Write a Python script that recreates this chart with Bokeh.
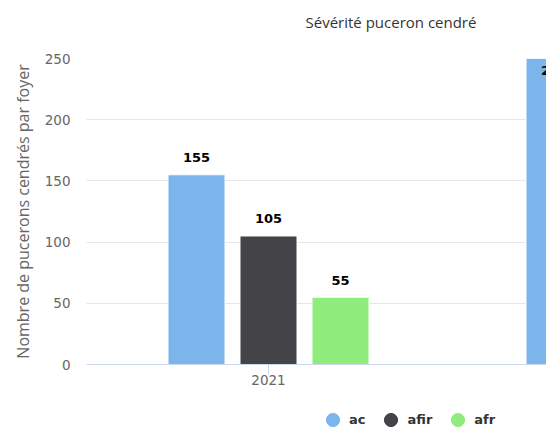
from bokeh.plotting import figure
from bokeh.layouts import column
from bokeh.models import ColumnDataSource, Range1d, FixedTicker, Legend, LegendItem, Title
from bokeh.transform import dodge
from bokeh.core.properties import value
from bokeh.embed import file_html
from bokeh.resources import INLINE

# ---- data ----
years = ["2021", "2022"]
series_names = ["ac", "afir", "afr"]
ac = [155, 250]
afir = [105]
afr = [55]
series_values = [ac, afir, afr]
colors = ["#7cb5ec", "#434348", "#90ed7d"]
y_ticks = [0, 50, 100, 150, 200, 250]
title_text = "Sévérité puceron cendré"
y_title = "Nombre de pucerons cendrés par foyer"

YMAX = 250
GROUP_W = 358.0  # px per category
BAR_W = 57.0 / GROUP_W
STEP = 72.0 / GROUP_W

p = figure(width=546, height=394, output_backend="svg", toolbar_location=None,
           title=None,
           x_range=Range1d(-182.0 / GROUP_W, -182.0 / GROUP_W + 460.0 / GROUP_W),
           y_range=Range1d(0, YMAX))
p.min_border_left = 86
p.min_border_right = 0
p.min_border_top = 58
p.min_border_bottom = 30
p.outline_line_color = None
p.background_fill_color = "white"
p.border_fill_color = "white"

# spacer (inner) then real title (outer)
spacer = Title(text=" ", text_font_size="2px", standoff=11, text_color="white")
p.add_layout(spacer, "above")
title = Title(text=title_text, align="left", offset=219, vertical_align="top",
              text_font="Open Sans", text_font_style="normal", text_font_size="15px",
              text_color="#333333", standoff=20)
p.add_layout(title, "above")

# legend figure (below the chart)
lf = figure(width=546, height=51, output_backend="svg", toolbar_location=None,
            title=None, x_axis_type=None, y_axis_type=None,
            x_range=Range1d(0, 1), y_range=Range1d(0, 1))
lf.min_border = 0
lf.outline_line_color = None
lf.grid.grid_line_color = None

legend_items = []
n = len(series_names)
for i, (name, vals, col) in enumerate(zip(series_names, series_values, colors)):
    xs = list(range(len(vals)))
    offs = [(-17 if v < YMAX else 12) for v in vals]
    src = ColumnDataSource(dict(x=xs, top=vals, label=[str(v) for v in vals], yoff=offs))
    off = (i - (n - 1) / 2) * STEP
    p.vbar(x=dodge("x", off), top="top", bottom=0, width=BAR_W, source=src,
           fill_color=col, line_color="white", line_width=1)
    p.text(x=dodge("x", off), y="top", text="label", source=src, y_offset="yoff",
           text_align="center", text_baseline="middle",
           text_font=value("DejaVu Sans"), text_font_style="bold",
           text_font_size="13px", text_color="#000000")
    sc = lf.scatter(x=[float("nan")], y=[float("nan")], marker="circle",
                    fill_color=col, line_color=col, size=13)
    legend_items.append(LegendItem(label=name, renderers=[sc]))

legend = Legend(items=legend_items, orientation="horizontal", location=(230, 9))
legend.glyph_width = 33
legend.glyph_height = 33
legend.label_standoff = -5
legend.label_width = 10
legend.spacing = 9
legend.padding = 0
legend.margin = 0
legend.border_line_color = None
legend.background_fill_alpha = 0
legend.label_text_font = "DejaVu Sans"
legend.label_text_font_style = "bold"
legend.label_text_font_size = "13px"
legend.label_text_color = "#333333"
lf.add_layout(legend, "center")

# x axis
p.xaxis.ticker = FixedTicker(ticks=list(range(len(years))))
p.xaxis.major_label_overrides = {i: y for i, y in enumerate(years)}
p.xaxis.axis_line_color = "#ccd6eb"
p.xaxis.major_tick_line_color = "#ccd6eb"
p.xaxis.major_tick_out = 10
p.xaxis.major_tick_in = 0
p.xaxis.minor_tick_line_color = None
p.xaxis.major_label_text_font = "DejaVu Sans"
p.xaxis.major_label_text_font_size = "13.5px"
p.xaxis.major_label_text_color = "#666666"
p.xaxis.major_label_standoff = 0

# y axis
p.yaxis.ticker = FixedTicker(ticks=y_ticks)
p.yaxis.axis_line_color = None
p.yaxis.major_tick_line_color = None
p.yaxis.major_tick_out = 0
p.yaxis.major_tick_in = 0
p.yaxis.minor_tick_line_color = None
p.yaxis.major_label_text_font = "DejaVu Sans"
p.yaxis.major_label_text_font_size = "13.5px"
p.yaxis.major_label_text_color = "#666666"
p.yaxis.major_label_standoff = 16
p.yaxis.axis_label = y_title
p.yaxis.axis_label_text_font = "Open Sans"
p.yaxis.axis_label_text_font_style = "normal"
p.yaxis.axis_label_text_font_size = "16px"
p.yaxis.axis_label_text_color = "#666666"
p.yaxis.axis_label_standoff = 8

p.xgrid.grid_line_color = None
p.ygrid.grid_line_color = "#e6e6e6"
p.ygrid.ticker = FixedTicker(ticks=y_ticks)

layout = column(p, lf, spacing=0)
open("out.html", "w").write(file_html(layout, INLINE))
